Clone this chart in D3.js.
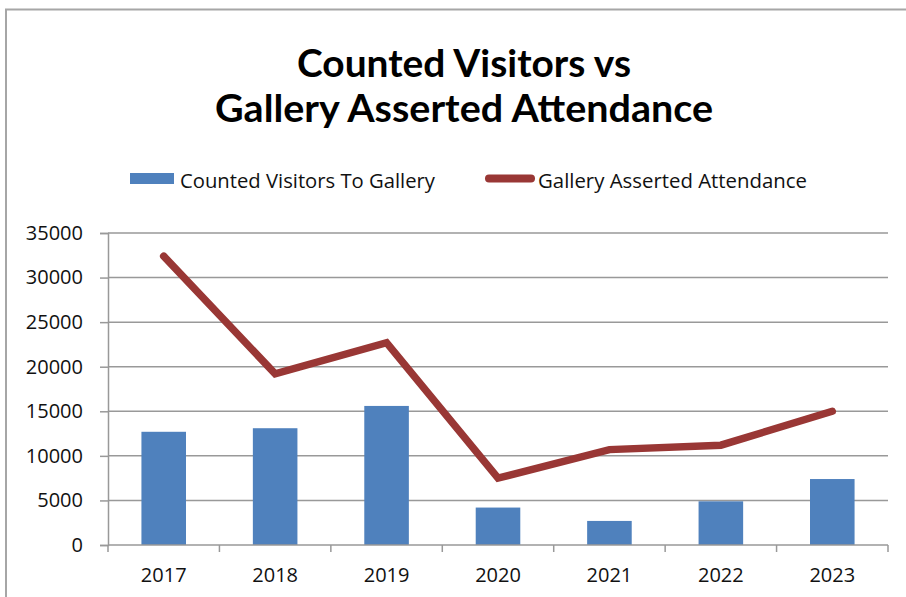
<!DOCTYPE html>
<html><head><meta charset="utf-8">
<script src="https://cdn.jsdelivr.net/npm/d3@7"></script>
<style>body{margin:0;background:#fff}svg{display:block}</style>
</head><body>
<script>
const years = ["2017","2018","2019","2020","2021","2022","2023"];
const counted = [12700, 13100, 15600, 4200, 2700, 4900, 7400];
const asserted = [32400, 19200, 22700, 7500, 10700, 11200, 15000];
const yTicks = [0,5000,10000,15000,20000,25000,30000,35000];
const titleLines = ["Counted Visitors vs","Gallery Asserted Attendance"];
const seriesNames = ["Counted Visitors To Gallery","Gallery Asserted Attendance"];

const W=906,H=597;
const svg=d3.select("body").append("svg").attr("width",W).attr("height",H);
svg.append("rect").attr("width",W).attr("height",H).attr("fill","#fff");
svg.append("path").attr("d",`M6,${H} V9.5 H${W}`).attr("fill","none").attr("stroke","#a6a6a6").attr("stroke-width",2);

const m={l:108,r:888,t:233,b:545};
const x=d3.scaleBand().domain(years).range([m.l,m.r]).paddingInner(0.6).paddingOuter(0.3);
const xb=d3.scaleBand().domain(years).range([m.l,m.r]);
const y=d3.scaleLinear().domain([0,35000]).range([m.b,m.t]);
const FS=20;

svg.append("g").selectAll("line").data(yTicks.filter(d=>d>0)).join("line")
 .attr("x1",m.l).attr("x2",m.r).attr("y1",d=>y(d)).attr("y2",d=>y(d))
 .attr("stroke","#999").attr("stroke-width",1.5);

const ya=svg.append("g").attr("transform",`translate(${m.l},0)`)
 .call(d3.axisLeft(y).tickValues(yTicks).tickSize(8).tickPadding(17).tickFormat(d=>String(d)));
ya.select(".domain").attr("stroke","#999").attr("stroke-width",1.5);
ya.selectAll(".tick line").attr("stroke","#999").attr("stroke-width",1.5);
ya.selectAll("text").attr("font-family","Open Sans").attr("font-size",FS).attr("fill","#111");

svg.append("g").selectAll("rect").data(years).join("rect")
 .attr("x",d=>x(d)).attr("width",x.bandwidth())
 .attr("y",(d,i)=>y(counted[i])).attr("height",(d,i)=>y(0)-y(counted[i]))
 .attr("fill","#4f81bd");

const xa=svg.append("g").attr("transform",`translate(0,${m.b})`)
 .call(d3.axisBottom(xb).tickSize(0).tickPadding(23));
xa.select(".domain").remove();
xa.selectAll("text").attr("font-family","Open Sans").attr("font-size",FS).attr("fill","#111");
svg.append("line").attr("x1",m.l).attr("x2",m.r).attr("y1",m.b).attr("y2",m.b).attr("stroke","#999").attr("stroke-width",1.5);
svg.append("g").selectAll("line").data(d3.range(years.length+1)).join("line")
 .attr("x1",i=>m.l+i*xb.step()).attr("x2",i=>m.l+i*xb.step())
 .attr("y1",m.b).attr("y2",m.b+7).attr("stroke","#999").attr("stroke-width",1.5);

const line=d3.line().x((d,i)=>xb(years[i])+xb.bandwidth()/2).y(d=>y(d));
svg.append("path").datum(asserted).attr("d",line).attr("fill","none")
 .attr("stroke","#993735").attr("stroke-width",7.5).attr("stroke-linejoin","miter").attr("stroke-linecap","round");

const tw=[334,498];
svg.append("g").selectAll("text").data(titleLines).join("text")
 .attr("x",464).attr("y",(d,i)=>77+i*45).attr("text-anchor","middle")
 .attr("font-family","Lato").attr("font-weight","bold").attr("font-size",38).attr("fill","#000")
 .attr("textLength",(d,i)=>tw[i]).attr("lengthAdjust","spacingAndGlyphs")
 .text(d=>d);

const lg=svg.append("g");
lg.append("rect").attr("x",130).attr("y",173).attr("width",44).attr("height",11).attr("fill","#4f81bd");
lg.append("text").attr("x",180).attr("y",188).attr("font-family","Open Sans").attr("font-size",FS).attr("fill","#111")
 .attr("textLength",255).attr("lengthAdjust","spacingAndGlyphs").text(seriesNames[0]);
lg.append("line").attr("x1",489).attr("x2",531).attr("y1",178.5).attr("y2",178.5).attr("stroke","#993735").attr("stroke-width",8).attr("stroke-linecap","round");
lg.append("text").attr("x",538).attr("y",188).attr("font-family","Open Sans").attr("font-size",FS).attr("fill","#111")
 .attr("textLength",269).attr("lengthAdjust","spacingAndGlyphs").text(seriesNames[1]);
</script>
</body></html>
